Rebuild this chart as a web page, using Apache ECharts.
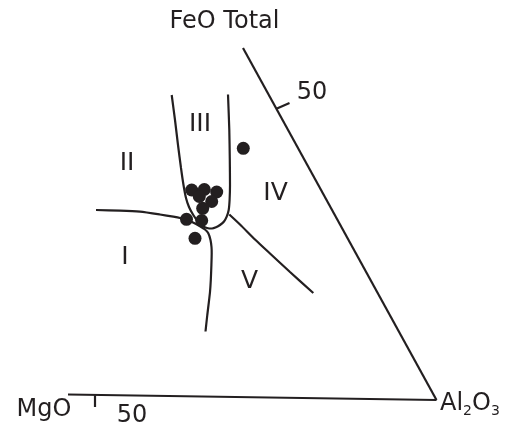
<!DOCTYPE html>
<html>
<head>
<meta charset="utf-8">
<script src="https://cdn.jsdelivr.net/npm/echarts@6/dist/echarts.min.js"></script>
<style>
  html, body { margin: 0; padding: 0; background: #fff; }
  #chart { width: 507px; height: 429px; }
</style>
</head>
<body>
<div id="chart"></div>
<script>
// Diagram space: x grows to the right, y grows downward (plot units).
const triangleRight = [[243, 48], [436.5, 400]];
const triangleBase = [[68, 394.5], [436.5, 400]];
const tickRight = [[277, 108.5], [289.5, 103]];
const tickBase = [[95, 395.2], [95, 407]];

// Field boundaries
const fieldIII = [[171.7, 95], [175, 120], [178, 145], [181, 168], [183.5, 185], [186, 198],
  [189, 207], [193.3, 215], [198, 221.5], [203.3, 226.3], [208, 228.3], [212, 228.5],
  [216, 227.3], [220, 225], [224, 221.5], [226.7, 216.7], [228.7, 210], [229.6, 200],
  [230, 185], [229.8, 160], [229.3, 130], [228, 94.5]];
const boundaryI_II = [[96, 210], [120, 210.6], [140, 211.7], [160, 214.5], [173.3, 216.7],
  [181, 218.3], [186.7, 220], [193, 222.5], [200, 226.3], [205, 229.5], [208.3, 233.3],
  [210.5, 240], [211.5, 247], [211.7, 253], [211.4, 265], [210.8, 280], [210, 292],
  [208.5, 305], [207.3, 315], [206.3, 324], [205.5, 331.5]];
const boundaryIV_V = [[229.3, 214.5], [240, 224.5], [255, 239.5], [270, 253.5],
  [290, 272], [313.3, 293]];

// Samples
const samples = [[191.7, 190], [204.3, 189.5], [216.7, 192], [199.3, 196.5], [211.7, 201.5],
  [202.7, 208.3], [186.5, 219.3], [201.7, 220.5], [195, 238.3], [243.3, 148.3]];

// Text
const axisLabels = [
  { text: 'FeO Total', pos: [224.5, 22] },
  { text: 'MgO', pos: [44, 410] },
  { text: '50', pos: [132, 416] },
  { text: '50', pos: [312, 93] }
];
const fieldLabels = [
  { text: 'I', pos: [125, 257] },
  { text: 'II', pos: [127, 163.5] },
  { text: 'III', pos: [200, 124.5] },
  { text: 'IV', pos: [275.5, 193] },
  { text: 'V', pos: [249.5, 281.5] }
];
const apexLabel = { pos: [440, 404] };

const ink = '#231f20';
const font = 'DejaVu Sans';

function lineSeries(points, smooth) {
  return {
    type: 'line', data: points, smooth: smooth || false, symbol: 'none',
    lineStyle: { color: ink, width: 2.2, opacity: 1 }, silent: true, z: 2
  };
}

function textSeries(items, size) {
  return {
    type: 'scatter', symbolSize: 0, silent: true, z: 5,
    itemStyle: { opacity: 1 },
    data: items.map(d => ({ value: d.pos, name: d.text })),
    label: {
      show: true, position: 'inside', formatter: p => p.name, opacity: 1,
      color: ink, fontFamily: font, fontSize: size, align: 'center', verticalAlign: 'middle'
    }
  };
}

const chart = echarts.init(document.getElementById('chart'), null, { renderer: 'canvas' });
chart.setOption({
  animation: false,
  backgroundColor: '#fff',
  grid: { left: 0, right: 0, top: 0, bottom: 0 },
  xAxis: { type: 'value', min: 0, max: 507, show: false },
  yAxis: { type: 'value', min: 0, max: 429, inverse: true, show: false },
  series: [
    lineSeries(triangleRight),
    lineSeries(triangleBase),
    lineSeries(tickRight),
    lineSeries(tickBase),
    lineSeries(fieldIII, 0.2),
    lineSeries(boundaryI_II, 0.2),
    lineSeries(boundaryIV_V, 0.3),
    {
      type: 'scatter', data: samples, symbol: 'circle', symbolSize: 13,
      itemStyle: { color: ink, opacity: 1 }, silent: true, z: 4
    },
    textSeries(axisLabels, 24),
    textSeries(fieldLabels, 25),
    {
      type: 'scatter', symbolSize: 0, silent: true, z: 5,
      itemStyle: { opacity: 1 },
      data: [{ value: apexLabel.pos }],
      label: {
        show: true, position: 'inside', align: 'left', verticalAlign: 'middle', opacity: 1,
        formatter: '{a|Al}{s|2}{a|O}{s|3}',
        rich: {
          a: { color: ink, fontFamily: font, fontSize: 24, lineHeight: 28 },
          s: { color: ink, fontFamily: font, fontSize: 14, lineHeight: 28, verticalAlign: 'bottom', padding: [14, 0, 0, 0] }
        }
      }
    }
  ]
});
</script>
</body>
</html>
